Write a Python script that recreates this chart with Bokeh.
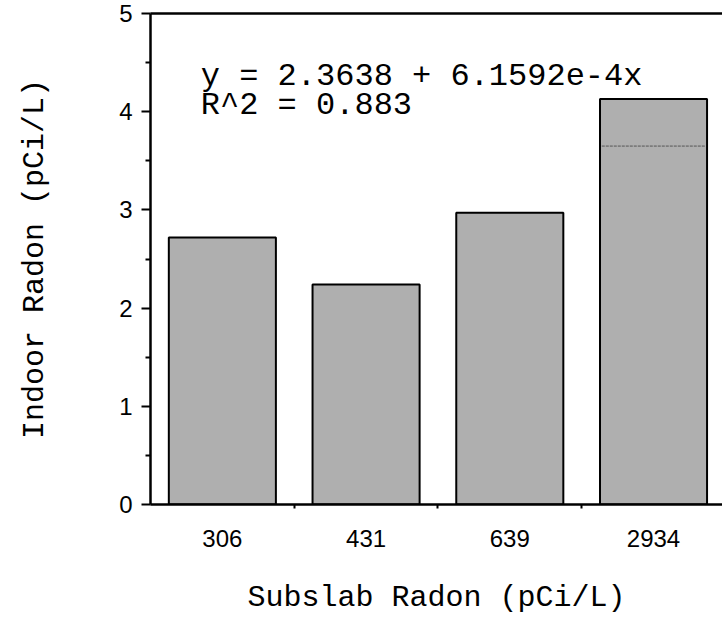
from bokeh.plotting import figure
from bokeh.models import Range1d, FixedTicker, LinearAxis, Label
from bokeh.embed import file_html
from bokeh.resources import INLINE

categories = ["306", "431", "639", "2934"]
indoor_radon = [2.72, 2.24, 2.97, 4.13]
inner_line_value = [None, None, None, 3.65]
fit_lines = ["y = 2.3638 + 6.1592e-4x", "R^2 = 0.883"]
y_ticks = [0, 1, 2, 3, 4, 5]
y_minor = [0.5, 1.5, 2.5, 3.5, 4.5]

xs = [i + 0.5 for i in range(len(categories))]

p = figure(width=722, height=617, output_backend="svg", toolbar_location=None,
           x_range=Range1d(0, 3.98), y_range=Range1d(0, 5),
           min_border_left=150, min_border_top=13, min_border_right=0,
           min_border_bottom=110, x_axis_location=None, y_axis_location=None)
p.outline_line_color = None
p.grid.visible = False
p.background_fill_color = "white"

p.vbar(x=xs, top=indoor_radon, width=0.745, bottom=0,
       fill_color="#afafaf", line_color="black", line_width=2)

for xc, v in zip(xs, inner_line_value):
    if v is not None:
        p.segment(x0=[xc - 0.36], x1=[xc + 0.36], y0=[v], y1=[v],
                  line_color="#555555", line_width=1, line_dash="3 1")

mono = "Liberation Mono"
sans = "Liberation Sans"

yax = LinearAxis(ticker=FixedTicker(ticks=y_ticks, minor_ticks=y_minor))
yax.axis_line_width = 2.5
yax.major_tick_line_width = 2
yax.minor_tick_line_width = 2
yax.major_tick_out = 9
yax.major_tick_in = 0
yax.minor_tick_out = 5
yax.minor_tick_in = 0
yax.major_label_text_font = sans
yax.major_label_text_font_size = "24px"
yax.major_label_text_color = "black"
yax.major_label_standoff = 9
yax.axis_label = "Indoor Radon (pCi/L)"
yax.axis_label_text_font = mono
yax.axis_label_text_font_size = "30px"
yax.axis_label_text_font_style = "normal"
yax.axis_label_text_color = "black"
yax.axis_label_standoff = 64
p.add_layout(yax, "left")

xax = LinearAxis(ticker=FixedTicker(ticks=xs, minor_ticks=[1, 2, 3]))
xax.major_label_overrides = {x: c for x, c in zip(xs, categories)}
xax.axis_line_width = 2.5
xax.major_tick_line_color = None
xax.minor_tick_line_width = 2
xax.minor_tick_out = 4
xax.minor_tick_in = 0
xax.major_label_text_font = sans
xax.major_label_text_font_size = "24px"
xax.major_label_text_color = "black"
xax.major_label_standoff = 19
xax.axis_label = "Subslab Radon (pCi/L)"
xax.axis_label_text_font = mono
xax.axis_label_text_font_size = "30px"
xax.axis_label_text_font_style = "normal"
xax.axis_label_text_color = "black"
xax.axis_label_standoff = 31
p.add_layout(xax, "below")

top = LinearAxis(ticker=FixedTicker(ticks=[]))
top.axis_line_width = 2.5
top.major_label_text_font_size = "0px"
top.major_tick_line_color = None
top.minor_tick_line_color = None
p.add_layout(top, "above")

for i, t in enumerate(fit_lines):
    p.add_layout(Label(x=0.35, y=4.55 - i * 0.295, text=t, text_font=mono,
                       text_font_size="32px", text_color="black",
                       text_baseline="top", text_line_height=1.0))

open("out.html", "w").write(file_html(p, INLINE))
